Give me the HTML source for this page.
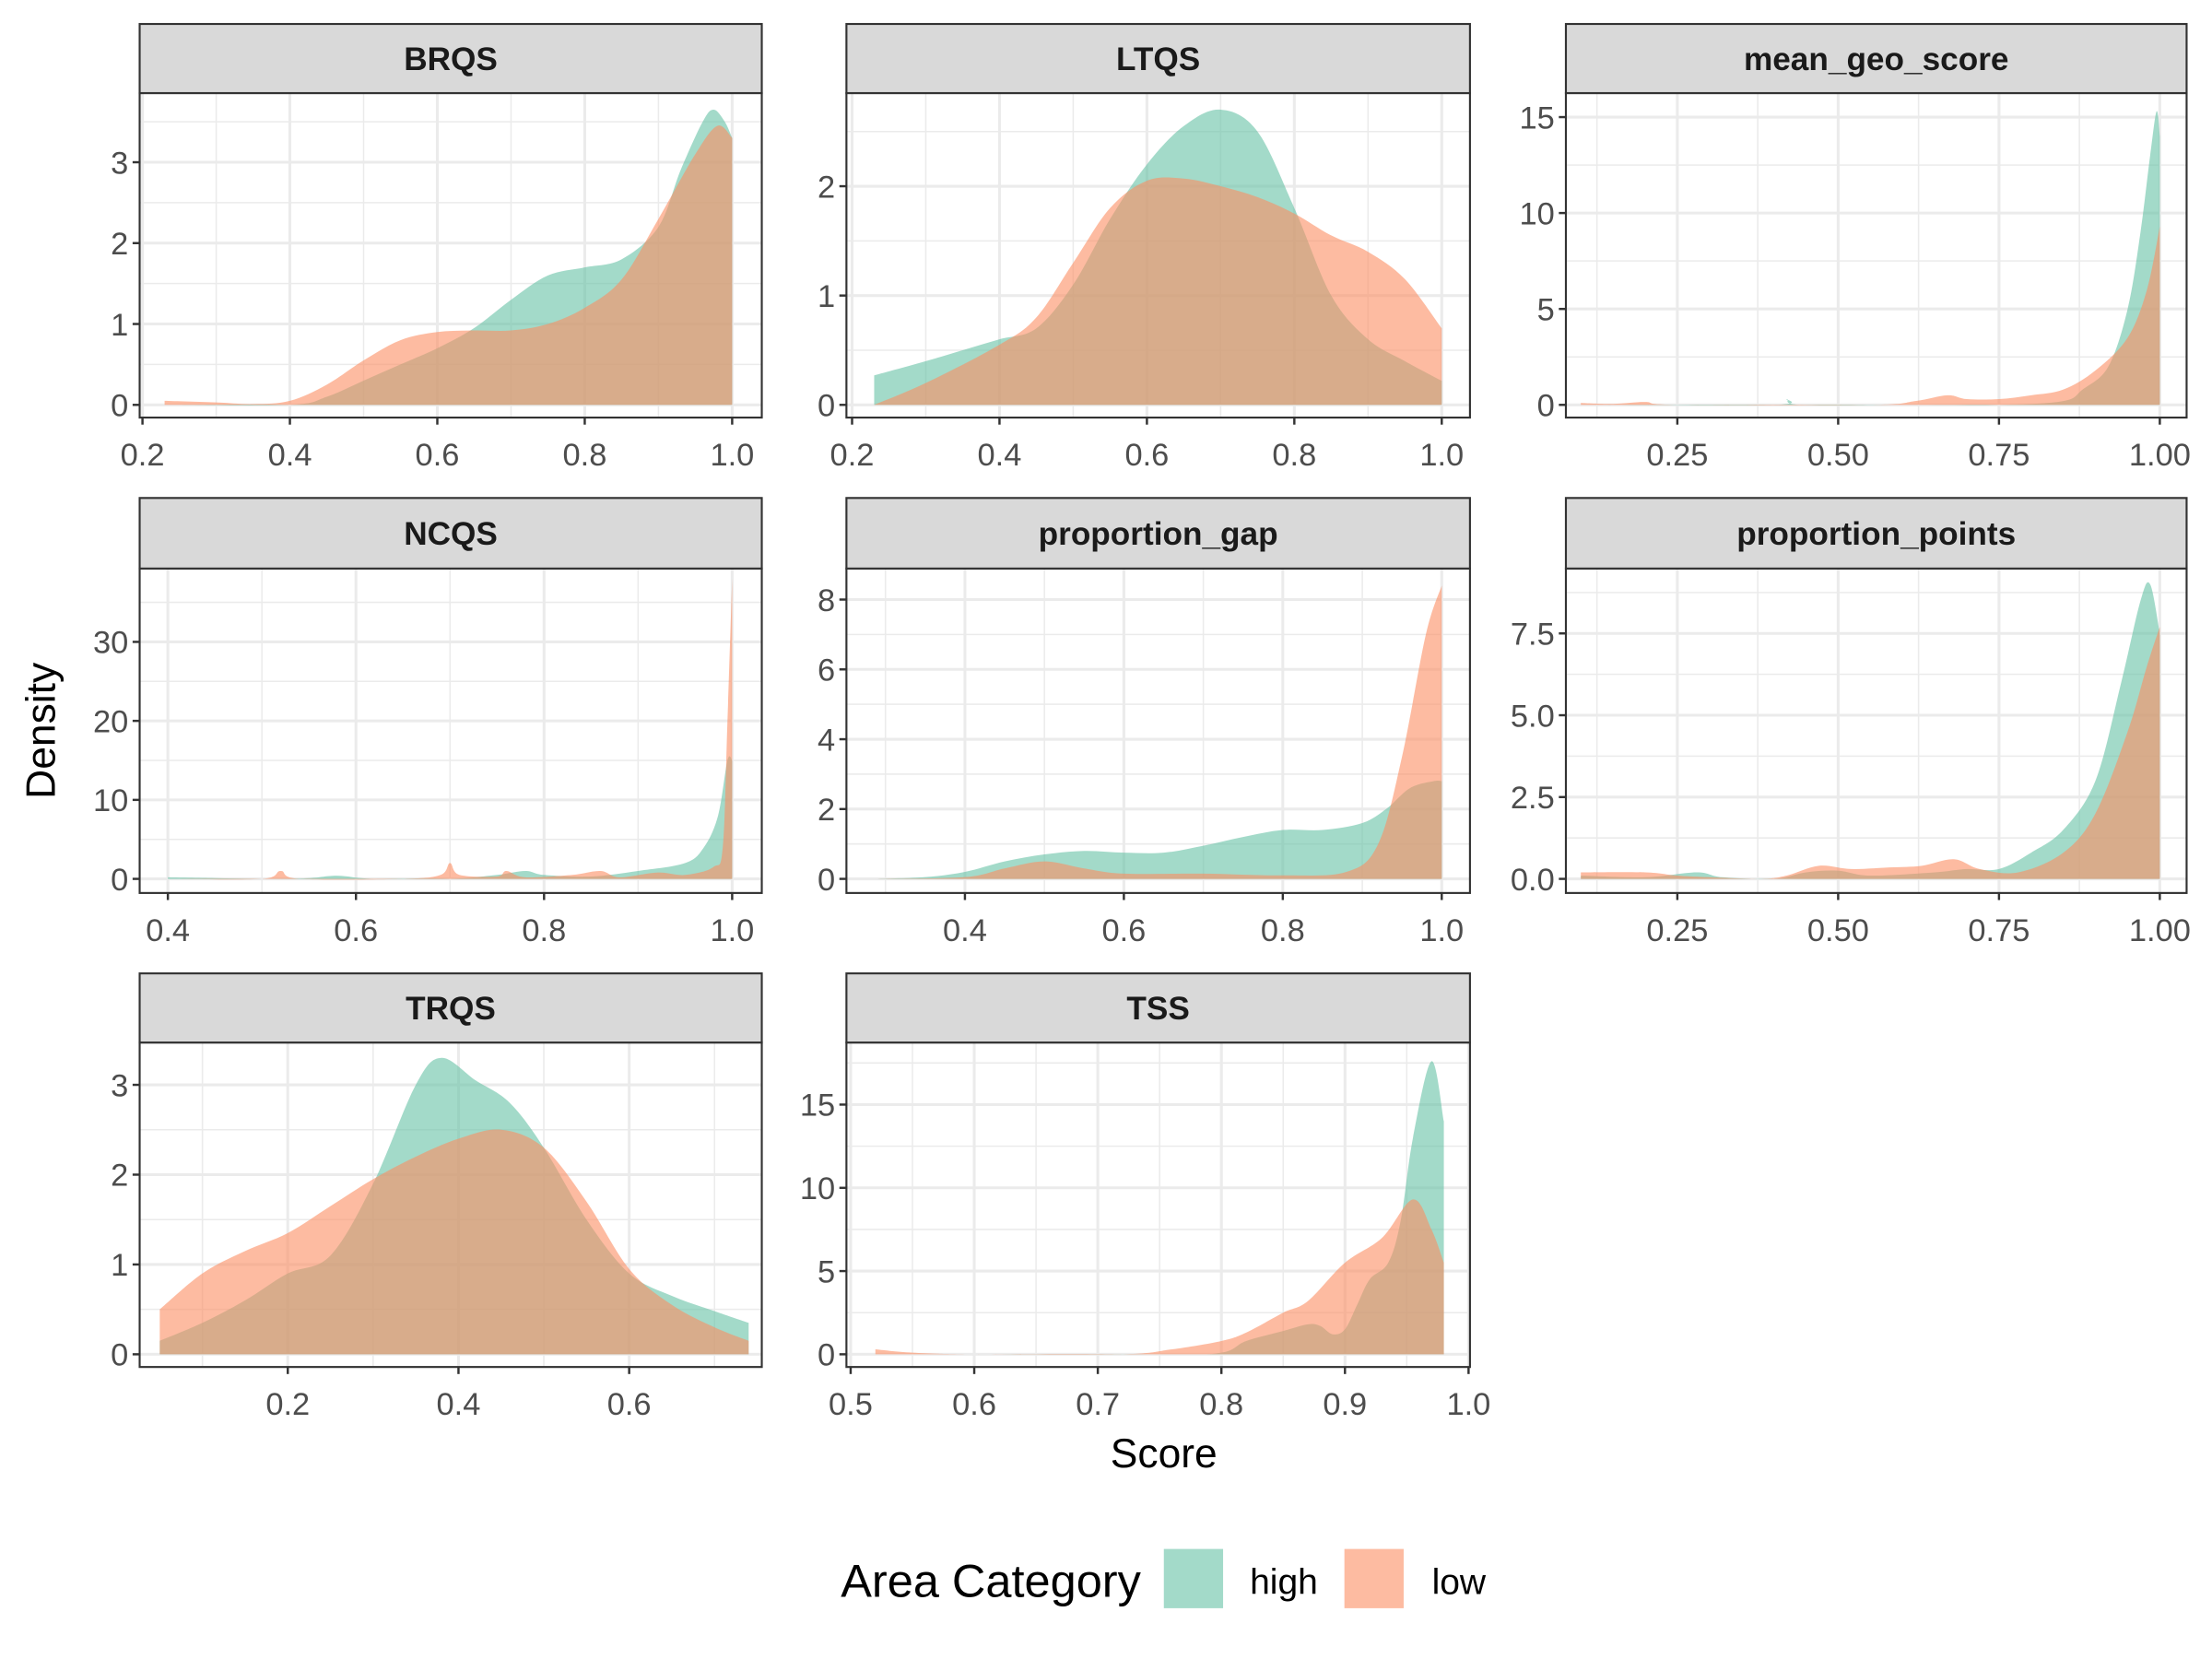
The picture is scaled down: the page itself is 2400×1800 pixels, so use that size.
<!DOCTYPE html>
<html><head><meta charset="utf-8">
<style>
html,body{margin:0;padding:0;background:#fff;}
svg{display:block;}
text{font-family:"Liberation Sans",Arial,sans-serif;}
</style></head>
<body>
<svg id="chart" width="2400" height="1800" viewBox="0 0 1568 1176" xmlns="http://www.w3.org/2000/svg">
<rect x="0" y="0" width="1568" height="1176" fill="#fff"/>
<text x="0" y="0" transform="translate(39,518) rotate(-90)" text-anchor="middle" font-size="29" fill="#000">Density</text>
<text x="825" y="1040" text-anchor="middle" font-size="29" fill="#000">Score</text>
<g>
<text x="596" y="1132" font-size="33" fill="#000">Area Category</text>
<rect x="825" y="1098" width="42" height="42" fill="#66C2A5" fill-opacity="0.6"/>
<text x="886" y="1130" font-size="25.5" fill="#000">high</text>
<rect x="953" y="1098" width="42" height="42" fill="#FC8D62" fill-opacity="0.6"/>
<text x="1015" y="1130" font-size="25.5" fill="#000">low</text>
</g>
</svg>
<script>
// ---- data ----
const panelNames = ["BRQS","LTQS","mean_geo_score","NCQS","proportion_gap","proportion_points","TRQS","TSS"];
const brqsHigh = [[0.23,0],[0.4,0],[0.45,0.1],[0.5,0.3],[0.55,0.5],[0.6,0.7],[0.65,0.95],[0.7,1.3],[0.75,1.6],[0.8,1.7],[0.85,1.8],[0.9,2.2],[0.93,2.9],[0.96,3.5],[0.975,3.65],[0.99,3.5],[1.0,3.3]];
const brqsLow = [[0.23,0.05],[0.3,0.03],[0.35,0.01],[0.4,0.05],[0.45,0.25],[0.5,0.55],[0.55,0.8],[0.6,0.9],[0.65,0.92],[0.7,0.92],[0.75,1.0],[0.8,1.2],[0.85,1.55],[0.9,2.3],[0.95,3.1],[0.98,3.45],[1.0,3.3]];
const ltqsHigh = [[0.23,0.27],[0.3,0.4],[0.35,0.5],[0.4,0.6],[0.45,0.7],[0.5,1.1],[0.55,1.7],[0.6,2.2],[0.65,2.55],[0.7,2.7],[0.75,2.5],[0.8,1.8],[0.85,1.0],[0.9,0.6],[0.95,0.4],[1.0,0.22]];
const ltqsLow = [[0.23,0],[0.3,0.2],[0.4,0.55],[0.45,0.8],[0.5,1.3],[0.55,1.8],[0.6,2.05],[0.65,2.07],[0.7,2.0],[0.75,1.9],[0.8,1.75],[0.85,1.55],[0.9,1.4],[0.95,1.15],[1.0,0.7]];
const geoHigh = [[0.1,0],[0.4,0],[0.42,0.3],[0.44,0],[0.6,0],[0.75,0],[0.85,0.2],[0.88,0.8],[0.92,2],[0.95,5],[0.97,9],[0.985,13],[0.995,15.3],[1.0,14]];
const geoLow = [[0.1,0.1],[0.15,0.05],[0.2,0.15],[0.25,0],[0.55,0],[0.62,0.2],[0.67,0.5],[0.7,0.3],[0.75,0.3],[0.8,0.5],[0.85,0.8],[0.9,1.8],[0.95,3.5],[0.98,6],[1.0,9.3]];
const ncqsHigh = [[0.4,0.2],[0.45,0.1],[0.5,0],[0.55,0.1],[0.58,0.4],[0.62,0],[0.7,0],[0.75,0.5],[0.78,1],[0.8,0.5],[0.85,0.3],[0.9,1],[0.95,2],[0.97,4],[0.985,8],[0.995,15],[1.0,15]];
const ncqsLow = [[0.4,0],[0.5,0],[0.52,1],[0.54,0],[0.65,0],[0.69,0.5],[0.7,2],[0.71,0.5],[0.75,0.3],[0.76,1],[0.78,0.2],[0.83,0.5],[0.86,1],[0.88,0.2],[0.92,0.8],[0.95,0.5],[0.98,1.5],[0.99,4],[0.995,20],[1.0,38]];
const gapHigh = [[0.29,0],[0.35,0.05],[0.4,0.2],[0.45,0.5],[0.5,0.7],[0.55,0.8],[0.6,0.75],[0.65,0.75],[0.7,0.95],[0.75,1.2],[0.8,1.4],[0.85,1.4],[0.9,1.6],[0.93,2.0],[0.96,2.6],[0.99,2.8],[1.0,2.8]];
const gapLow = [[0.29,0],[0.4,0.05],[0.45,0.3],[0.5,0.5],[0.55,0.3],[0.6,0.15],[0.7,0.15],[0.8,0.1],[0.88,0.2],[0.92,1.0],[0.95,3.5],[0.98,7],[1.0,8.4]];
const pointsHigh = [[0.1,0.1],[0.2,0.05],[0.28,0.2],[0.32,0.05],[0.4,0],[0.45,0.2],[0.5,0.25],[0.55,0.1],[0.65,0.2],[0.7,0.3],[0.75,0.3],[0.8,0.8],[0.85,1.5],[0.9,3],[0.94,6],[0.97,8.5],[0.985,9],[1.0,7.5]];
const pointsLow = [[0.1,0.2],[0.2,0.2],[0.25,0.1],[0.3,0.05],[0.38,0],[0.42,0.1],[0.47,0.4],[0.52,0.3],[0.58,0.35],[0.63,0.4],[0.68,0.6],[0.72,0.3],[0.78,0.2],[0.85,0.8],[0.9,2],[0.95,4.5],[0.98,6.5],[1.0,7.7]];
const trqsHigh = [[0.05,0.15],[0.1,0.35],[0.15,0.6],[0.2,0.9],[0.25,1.1],[0.3,1.9],[0.35,3.0],[0.38,3.3],[0.42,3.05],[0.46,2.8],[0.5,2.3],[0.55,1.5],[0.6,0.9],[0.65,0.65],[0.7,0.48],[0.74,0.35]];
const trqsLow = [[0.05,0.5],[0.1,0.9],[0.15,1.15],[0.2,1.35],[0.25,1.65],[0.3,1.95],[0.35,2.2],[0.4,2.4],[0.45,2.5],[0.5,2.3],[0.55,1.7],[0.6,0.95],[0.65,0.55],[0.7,0.3],[0.74,0.15]];
const tssHigh = [[0.52,0],[0.75,0],[0.8,0.1],[0.82,0.8],[0.85,1.4],[0.87,1.8],[0.88,1.7],[0.89,1.2],[0.9,1.5],[0.91,3],[0.92,4.5],[0.935,5.5],[0.945,8],[0.955,13],[0.97,17.6],[0.98,14]];
const tssLow = [[0.52,0.3],[0.55,0.1],[0.6,0],[0.72,0],[0.76,0.3],[0.8,0.8],[0.82,1.3],[0.85,2.5],[0.87,3.2],[0.9,5.5],[0.93,7],[0.955,9.3],[0.97,7.5],[0.98,5.5]];
const highSeries = [brqsHigh,ltqsHigh,geoHigh,ncqsHigh,gapHigh,pointsHigh,trqsHigh,tssHigh];
const lowSeries = [brqsLow,ltqsLow,geoLow,ncqsLow,gapLow,pointsLow,trqsLow,tssLow];
const xTickLabels = [["0.2","0.4","0.6","0.8","1.0"],["0.2","0.4","0.6","0.8","1.0"],["0.25","0.50","0.75","1.00"],["0.4","0.6","0.8","1.0"],["0.4","0.6","0.8","1.0"],["0.25","0.50","0.75","1.00"],["0.2","0.4","0.6"],["0.5","0.6","0.7","0.8","0.9","1.0"]];
const yTickLabels = [["0","1","2","3"],["0","1","2"],["0","5","10","15"],["0","10","20","30"],["0","2","4","6","8"],["0.0","2.5","5.0","7.5"],["0","1","2","3"],["0","5","10","15"]];

// ---- layout (pixel calibration, not data) ----
const colL=[99,600,1110], colR=[540,1042,1550];
const stripTop=[17,353,690], plotTop=[66,403,739], plotBot=[296,633,969];
const xCal=[[0.2,101,1.0,519],[0.2,604,1.0,1022],[0.25,1189,1.0,1531],[0.4,119,1.0,519],[0.4,684,1.0,1022],[0.25,1189,1.0,1531],[0.2,204,0.6,446],[0.5,603,1.0,1041]];
const yCal=[[0,287,3,115],[0,287,2,132],[0,287,15,83],[0,623,30,455],[0,623,8,425],[0,623,7.5,449],[0,960,3,769],[0,960,15,783]];

const NS="http://www.w3.org/2000/svg";
const svg=document.getElementById('chart');
function mk(tag,attrs,parent){const e=document.createElementNS(NS,tag);for(const k in attrs)e.setAttribute(k,attrs[k]);parent.appendChild(e);return e;}
function lin(c){return v=>c[1]+(v-c[0])*(c[3]-c[1])/(c[2]-c[0]);}
function smoothPath(pts){
  let d="M"+pts[0][0].toFixed(2)+","+pts[0][1].toFixed(2);
  for(let i=0;i<pts.length-1;i++){
    const p0=pts[Math.max(0,i-1)],p1=pts[i],p2=pts[i+1],p3=pts[Math.min(pts.length-1,i+2)];
    const c1=[p1[0]+(p2[0]-p0[0])/6,p1[1]+(p2[1]-p0[1])/6];
    const c2=[p2[0]-(p3[0]-p1[0])/6,p2[1]-(p3[1]-p1[1])/6];
    d+="C"+c1[0].toFixed(2)+","+c1[1].toFixed(2)+" "+c2[0].toFixed(2)+","+c2[1].toFixed(2)+" "+p2[0].toFixed(2)+","+p2[1].toFixed(2);
  }
  return d;
}

panelNames.forEach((name,i)=>{
  const c=i%3, r=Math.floor(i/3);
  const L=colL[c],R=colR[c],T=plotTop[r],B=plotBot[r],ST=stripTop[r];
  const xs=lin(xCal[i]), ys=lin(yCal[i]);
  const g=mk('g',{},svg);
  
  
  mk('rect',{x:L,y:T,width:R-L,height:B-T,fill:'#fff'},g);
  const xt=xTickLabels[i].map(Number), yt=yTickLabels[i].map(Number);
  const dx=xt[1]-xt[0], dy=yt[1]-yt[0];
  const gg=mk('g',{},g);
  
  
  for(let v=xt[0]-dx*1.5; v<=xt[xt.length-1]+dx*1.5; v+=dx/2){
    const px=xs(v); if(px<=L+0.5||px>=R-0.5) continue;
    const major=Math.abs((v-xt[0])/dx-Math.round((v-xt[0])/dx))<1e-6;
    mk('line',{x1:px,x2:px,y1:T,y2:B,stroke:'#EBEBEB','stroke-width':major?2:1},gg);
  }
  for(let v=yt[0]-dy*1.5; v<=yt[yt.length-1]+dy*1.5; v+=dy/2){
    const py=ys(v); if(py<=T+0.5||py>=B-0.5) continue;
    const major=Math.abs((v-yt[0])/dy-Math.round((v-yt[0])/dy))<1e-6;
    mk('line',{x1:L,x2:R,y1:py,y2:py,stroke:'#EBEBEB','stroke-width':major?2:1},gg);
  }
  [[highSeries[i],'#66C2A5','high'],[lowSeries[i],'#FC8D62','low']].forEach(([data,col,lab])=>{
    const pts=data.map(p=>[xs(p[0]),ys(p[1])]);
    const y0=ys(0);
    let d=smoothPath(pts)+"L"+pts[pts.length-1][0].toFixed(2)+","+y0.toFixed(2)+"L"+pts[0][0].toFixed(2)+","+y0.toFixed(2)+"Z";
    const p=mk('path',{d:d,fill:col,'fill-opacity':0.6},g);
    
    
  });
  mk('rect',{x:L,y:T,width:R-L,height:B-T,fill:'none',stroke:'#333','stroke-width':1.4},g);
  mk('rect',{x:L,y:ST,width:R-L,height:T-ST,fill:'#D9D9D9',stroke:'#333','stroke-width':1.4},g);
  const st=mk('text',{x:(L+R)/2,y:(ST+T)/2+8,'text-anchor':'middle','font-size':23,'font-weight':'bold',fill:'#1A1A1A'},g);
  st.textContent=name;
  
  
  xTickLabels[i].forEach(lbl=>{
    const px=xs(Number(lbl));
    mk('line',{x1:px,x2:px,y1:B,y2:B+5,stroke:'#333','stroke-width':1.6},g);
    const t=mk('text',{x:px,y:B+34,'text-anchor':'middle','font-size':22.5,fill:'#4D4D4D'},g);
    t.textContent=lbl;
    
    
  });
  yTickLabels[i].forEach(lbl=>{
    const py=ys(Number(lbl));
    mk('line',{x1:L-5,x2:L,y1:py,y2:py,stroke:'#333','stroke-width':1.6},g);
    const t=mk('text',{x:L-8,y:py+8,'text-anchor':'end','font-size':22.5,fill:'#4D4D4D'},g);
    t.textContent=lbl;
    
    
  });
});
</script>
</body></html>
